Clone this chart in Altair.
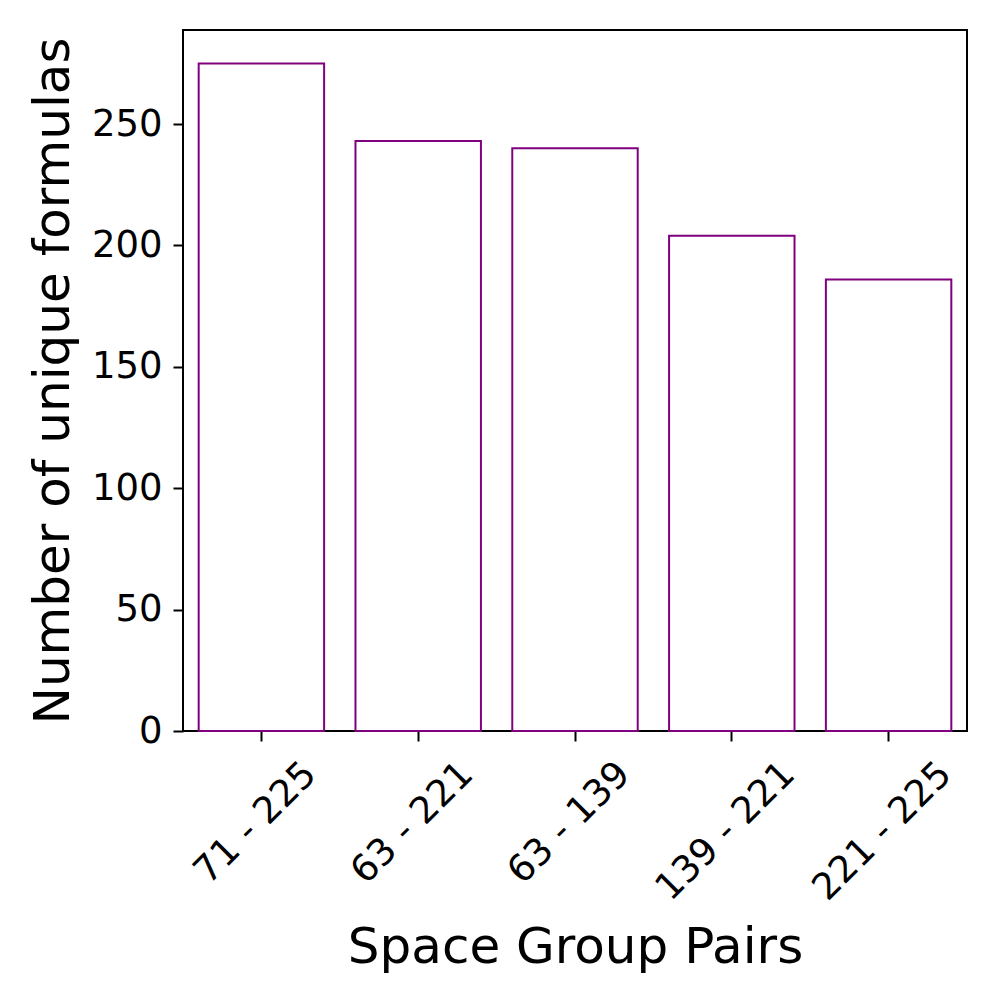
import altair as alt
import pandas as pd

pairs = ["71 - 225", "63 - 221", "63 - 139", "139 - 221", "221 - 225"]
counts = [275, 243, 240, 204, 186]

df = pd.DataFrame({"pair": pairs, "count": counts})

FONT = "DejaVu Sans"

chart = alt.Chart(df).mark_bar(
    fill="white", stroke="#800080", strokeWidth=2
).encode(
    x=alt.X(
        "pair:N", sort=None,
        scale=alt.Scale(paddingInner=0.2, paddingOuter=0.1),
        axis=alt.Axis(
            title="Space Group Pairs",
            labelAngle=-45, labelAlign="right", labelBaseline="middle",
            labelOffset=alt.ExprRef("length(datum.label) > 8 ? 57 : 49"),
            labelPadding=27, labelFontSize=37, labelFont=FONT, labelColor="black",
            tickSize=10, tickWidth=2, tickColor="black",
            domain=False, grid=False,
            titleFontSize=50, titleFont=FONT, titleFontWeight="normal", titleColor="black",
            titleBaseline="alphabetic", titleAlign="center", titleX=392, titleY=231,
        ),
    ),
    y=alt.Y(
        "count:Q",
        scale=alt.Scale(domain=[0, 288.75], nice=False, zero=True),
        axis=alt.Axis(
            title="Number of unique formulas",
            values=[0, 50, 100, 150, 200, 250],
            labelFontSize=37, labelFont=FONT, labelColor="black", labelPadding=11,
            labelBaseline="middle",
            tickSize=10, tickWidth=2, tickColor="black",
            domain=False, grid=False,
            titleFontSize=50, titleFont=FONT, titleFontWeight="normal", titleColor="black",
            titleAngle=-90, titleBaseline="alphabetic", titleAlign="center",
            titleX=-115, titleY=350.5,
        ),
    ),
).properties(
    width=784, height=701,
    autosize=alt.AutoSizeParams(type="none"),
    padding={"left": 175, "top": 22, "right": 25, "bottom": 245},
).configure(
    background="white",
    view=alt.ViewConfig(stroke="black", strokeWidth=2),
)

chart.save("out.html", embed_options={"renderer": "svg", "actions": False})
